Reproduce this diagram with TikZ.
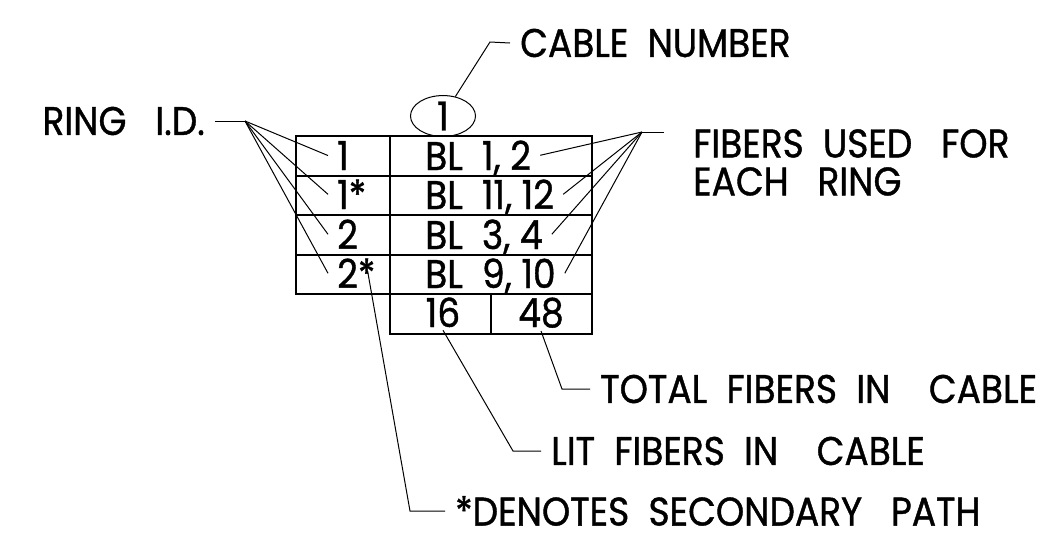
\documentclass[tikz,border=0pt]{standalone}
\usepackage{fontspec}
\setmainfont{Poppins}[FakeStretch=0.9, FakeBold=1]
\usepackage{tikz}
\usetikzlibrary{
    positioning,
    shapes.geometric,
    calc
}
\newcommand{\tagfont}{\fontsize{40}{38}\selectfont}

\begin{document}
\begin{tikzpicture}[
    x=1pt, y=-1pt,
    tblline/.style={line width=1.3pt},
    leader/.style={line width=1pt},
    cell/.style={
        anchor=base west, inner xsep=9pt, inner ysep=0pt,
        text depth=0pt, font=\tagfont
    },
    num/.style={anchor=base, inner xsep=3pt, inner ysep=3pt, font=\tagfont},
    tag/.style={inner xsep=10pt, inner ysep=2pt, align=left, font=\tagfont}
]
\useasboundingbox (0,0) rectangle (1047,550);

% Cable number
\node[ellipse, draw, leader, minimum width=65pt, minimum height=40pt,
      inner sep=0pt, font=\tagfont] (cab) at (443,116) {1};
\coordinate (cabbend) at (490,42);
\node[tag, anchor=west] (cabtxt) at (510,43) {CABLE\ \ NUMBER};
\draw[leader] (cab) -- (cabbend) -- (cabtxt.west);

% Table
\draw[tblline] (296,136) rectangle (592,294);
\draw[tblline] (390,294) rectangle (592,334);
\draw[tblline] (390,136) -- (390,294);
\draw[tblline] (491,294) -- (491,334);
\foreach \y in {176,215,255}
    \draw[tblline] (296,\y) -- (592,\y);

% Ring ids and fibers
\foreach \n/\id/\bl/\y in {1/1/{BL\ \ 1, 2}/170, 2/1*/{BL\ \ 11, 12}/209,
                           3/2/{BL\ \ 3, 4}/249, 4/2*/{BL\ \ 9, 10}/288} {
    \node[cell] (id\n) at (328,\y) {\id};
    \node[cell] (bl\n) at (416,\y) {\bl};
}
\node[num] (n16) at (443,327) {16};
\node[num] (n48) at (541,327) {48};

% Ring I.D. fan
\node[tag, anchor=east] (ring) at (215,121) {RING\ \ \ I.D.};
\coordinate (ringfan) at (245,121);
\draw[leader] (ring.east) -- (ringfan);
\foreach \n in {1,...,4}
    \draw[leader] (ringfan) -- (id\n.west);

% Fibers fan
\coordinate (fibfan) at (642,132);
\coordinate (fibend) at (664,132);
\node[tag, anchor=north west] (fib) at (683,127) {FIBERS\ \ USED\ \ \ FOR\\EACH\ \ \ RING};
\draw[leader] (fibend) -- (fibfan);
\foreach \n in {1,...,4}
    \draw[leader] (fibfan) -- (bl\n.east);

% Totals
\coordinate (totbend) at (562,389);
\node[tag, anchor=west] (total) at (590,389) {TOTAL\ \ FIBERS\ \ IN\ \ \ \ CABLE};
\draw[leader] (n48.south) -- (totbend) -- (total.west);

\coordinate (litbend) at (513,451);
\node[tag, anchor=west] (lit) at (541,451) {LIT\ \ FIBERS\ \ IN\ \ \ \ CABLE};
\draw[leader] (n16.south) -- (litbend) -- (lit.west);

% Secondary path note
\coordinate (starpt) at ([xshift=-17pt, yshift=17pt]id4.base east);
\coordinate (secbend) at (410,511);
\node[tag, anchor=west] (second) at (445,511) {*DENOTES\ \ SECONDARY\ \ \ PATH};
\draw[leader] (starpt) -- (secbend) -- (second.west);

\end{tikzpicture}
\end{document}
